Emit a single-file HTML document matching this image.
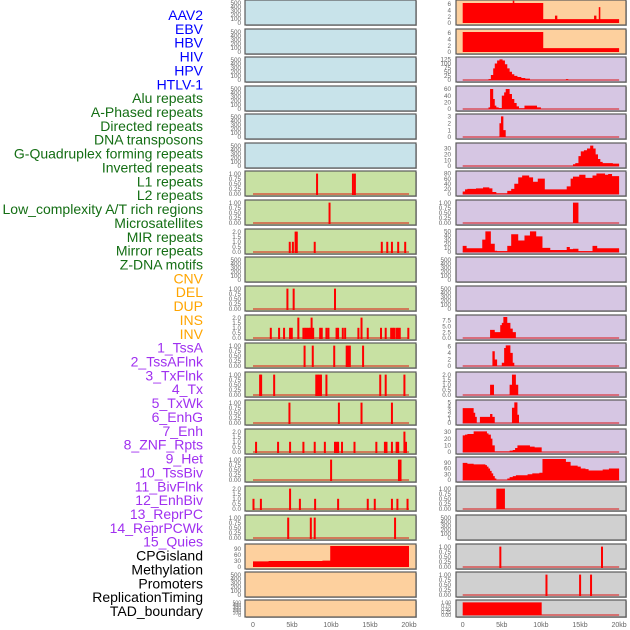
<!DOCTYPE html>
<html><head><meta charset="utf-8"><style>
html,body{margin:0;padding:0;background:#fff;width:630px;height:630px;overflow:hidden}
svg{display:block}
text{font-family:"Liberation Sans",sans-serif}
</style></head><body>
<svg id="chart" width="630" height="630" viewBox="0 0 630 630" xmlns="http://www.w3.org/2000/svg"></svg>
<script>
// ---------- data ----------
const trackLabels=["AAV2","EBV","HBV","HIV","HPV","HTLV-1","Alu repeats","A-Phased repeats","Directed repeats","DNA transposons","G-Quadruplex forming repeats","Inverted repeats","L1 repeats","L2 repeats","Low_complexity A/T rich regions","Microsatellites","MIR repeats","Mirror repeats","Z-DNA motifs","CNV","DEL","DUP","INS","INV","1_TssA","2_TssAFlnk","3_TxFlnk","4_Tx","5_TxWk","6_EnhG","7_Enh","8_ZNF_Rpts","9_Het","10_TssBiv","11_BivFlnk","12_EnhBiv","13_ReprPC","14_ReprPCWk","15_Quies","CPGisland","Methylation","Promoters","ReplicationTiming","TAD_boundary"];
const labelGroups=["v","v","v","v","v","v","r","r","r","r","r","r","r","r","r","r","r","r","r","s","s","s","s","s","c","c","c","c","c","c","c","c","c","c","c","c","c","c","c","o","o","o","o","o"];
const xTickLabels=["0","5kb","10kb","15kb","20kb"];
const xTickValues=[0,5,10,15,20];

// left bar tracks (kb positions, heights)
const L7_pos=[8.2,12.8,13.05];
const L8_pos=[9.8];
const L9_pos=[4.7,5.1,5.45,5.6,7.9,16.5,17.2,17.8,18.6,19.5];
const L9_h=[1,1,2,2,1,1,1,1,1,1];
const L11_pos=[4.4,5.2,10.5];
const L12_pos=[2.27,3.33,3.97,4.74,4.96,5.8,6.45,6.67,6.88,7.1,7.3,7.5,7.7,8.6,8.8,9.4,9.66,10.7,10.9,11.5,11.8,13.5,13.9,14.7,16.4,17.0,17.7,17.9,18.1,18.4,18.6,18.8,19.9];
const L12_h=[1,1,1,1,1,2,1,1,1,1,1,2,1,1,1,1,1,1,1,1,1,1,2,1,1,1,1,1,1,1,1,1,1];
const L13_pos=[6.6,7.65,10.4,12.0,12.2,12.4,14.1];
const L14_pos=[0.9,1.03,2.7,8.1,8.3,8.5,8.7,9.4,16.3,17.0,19.4];
const L15_pos=[4.66,11.0,13.9,17.8];
const L16_pos=[0.38,3.2,4.74,6.45,7.9,9.2,10.5,10.7,10.9,11.4,13.0,15.8,16.9,17.1,17.8,18.4,18.6,19.4,19.6];
const L16_h=[1,1,1,1,1,1,1,1,1,1,1,1,1,1,1,1,1,2,1];
const L17_pos=[10.0,18.7,18.9];
const L18_pos=[0.05,1.0,4.74,6.0,7.95,10.9,14.7,15.6,17.8,18.5,19.8];
const L18_h=[1,1,2,1,1,1,1,1,1,1,1];
const L19_pos=[4.5,7.4,7.9,18.2];
const L20_starts=[0,2.0,8.9,9.9,20];
const L20_vals=[28,30,32,105,0];

// right step-area tracks
const R1_starts=[0,6.4,6.6,10.3,11.8,12.1,16.8,17.1,17.4,17.6,20];
const R1_vals=[6.3,7,6.3,1.2,2.3,1.2,2.3,1.2,5,1.2,0];
const R2_starts=[0,10.3,20];
const R2_vals=[6.3,1.2,0];
const R3_starts=[3.3,3.6,3.9,4.1,4.4,4.7,5.1,5.4,5.7,6.0,6.3,6.6,7.0,7.5,8.0,8.6,13.2,13.5];
const R3_vals=[5,30,70,100,118,125,118,95,70,50,35,25,18,12,8,0,5,0];
const R4_starts=[3.3,3.5,3.9,4.1,4.3,4.6,5.0,5.3,5.5,6.0,6.3,6.6,6.9,7.2,7.9,9.5,10.0];
const R4_vals=[5,60,30,10,5,3,40,50,60,45,30,18,8,2,10,5,0];
const R5_starts=[4.7,4.9,5.2,5.5];
const R5_vals=[2,3,1,0];
const R6_starts=[14.1,14.4,14.8,15.1,15.5,15.9,16.3,16.7,17.0,17.3,17.6,17.9,19.2,20];
const R6_vals=[3,5,17,25,27,30,35,30,20,12,7,5,4,0];
const R7_starts=[0,0.3,0.6,1.7,2.6,3.4,3.8,4.3,5.7,6.2,6.6,7.1,7.6,8.5,9.0,9.6,10.5,13.3,13.8,14.1,14.9,15.7,16.6,17.1,18.2,18.6,19.1,20];
const R7_vals=[10,18,20,22,26,22,8,2,12,20,40,65,72,65,48,60,18,30,60,68,75,63,72,80,75,78,70,0];
const R8_starts=[14.1,14.8];
const R8_vals=[1,0];
const R9_starts=[0,0.5,2.5,2.9,3.6,4.1,4.4,5.7,6.2,7.1,7.9,8.6,9.4,10.2,11.2,13.3,13.7,14.1,14.8,16.6,17.2,20];
const R9_vals=[15,9,30,50,20,3,2,15,43,28,40,50,38,10,5,12,7,8,2,15,9,0];
const R12_starts=[3.5,4.1,4.8,5.0,5.2,5.7,6.1,6.4,6.8];
const R12_vals=[3.5,2.5,5.5,6.5,9,6.5,4,2.5,0];
const R13_starts=[3.8,4.1,4.4,5.0,5.3,5.5,6.1,6.4,6.6];
const R13_vals=[4.5,2,0,1,5.5,6.3,4,1,0];
const R14_starts=[3.5,4.0,6.0,6.3,6.8,7.1];
const R14_vals=[1,0,1,2,1,0];
const R15_starts=[0,1.4,1.6,1.8,2.2,3.5,3.8,4.1,6.3,6.6,7.0,7.2];
const R15_vals=[3.6,2.5,1.5,0,1.5,2.2,1.5,0,3.7,5,2,0];
const R16_starts=[0,0.3,0.6,1.4,3.1,3.3,3.6,3.8,4.1,6.0,6.4,6.7,7.0,8.6,9.2,10.1];
const R16_vals=[25,26,27,31,28,26,20,10,0.5,2,3,6,10,8,7,0];
const R17_starts=[0,0.6,1.4,2.9,3.1,3.3,3.5,3.7,3.9,4.1,4.3,5.7,6.0,6.4,6.8,8.3,8.9,9.8,10.2,13.2,13.8,14.7,15.1,15.7,16.1,17.9,18.7,20];
const R17_vals=[90,85,82,78,70,60,48,35,20,8,0,8,15,20,25,30,35,38,110,95,75,70,60,57,50,55,60,0];
const R18_starts=[4.3,5.4];
const R18_vals=[1,0];
const R20_pos=[4.8,17.8];
const R21_pos=[10.7,15.0,16.4];
const R22_starts=[0,10.1];
const R22_vals=[1,0];

// ---------- layout ----------
const NS="http://www.w3.org/2000/svg";
const svg=document.getElementById('chart');
const rowTops=[0,29,57,86,114,143,171,200,229,257,286,315,343,372,400,429,457,486,515,544,572,600];
const rowH=i=>i===21?17:25;
const COL={blue:"#c8e3ea",green:"#c8e1a3",orange:"#fdd09e",lav:"#d6c6e3",gray:"#d0d0d0"};
const groupColor={v:"#0000ff",r:"#146e14",s:"#ffa500",c:"#a030f0",o:"#000000"};
const left={x0:245,x1:416,z:253,s:7.8,tickX:241};
const right={x0:456,x1:626,z:462.7,s:7.82,tickX:451};

const T500={v:[0,100,200,300,400,500],l:["0","100","200","300","400","500"],max:520};
const TP1={v:[0,0.25,0.5,0.75,1],l:["0.00","0.25","0.50","0.75","1.00"],max:1.03};
const TP2={v:[0,0.5,1,1.5,2],l:["0.0","0.5","1.0","1.5","2.0"],max:2.06};
function T(v,max){return {v:v,l:v.map(String),max:max};}

function mk(tag,attrs,parent){const e=document.createElementNS(NS,tag);for(const k in attrs)e.setAttribute(k,attrs[k]);(parent||svg).appendChild(e);return e;}

// labels
trackLabels.forEach((t,i)=>{
  const y=15+i*(611-15)/(trackLabels.length-1);
  const e=mk('text',{x:203,y:y+5,'text-anchor':'end','font-size':14,fill:groupColor[labelGroups[i]]});
  e.textContent=t;
  
  
});

function panel(side,row,bg,ticks,draw,name,baseline){
  const top=rowTops[row],h=rowH(row),bot=top+h;
  const g=mk('g',{});
  
  
  mk('rect',{x:side.x0+1,y:top+1,width:side.x1-side.x0,height:h,fill:'#bbb'},g);
  mk('rect',{x:side.x0,y:top,width:side.x1-side.x0,height:h,fill:bg,stroke:'#5a5a5a','stroke-width':1.2},g);
  const y0=bot-2,yt=top+2;
  const ys=v=>y0-(v/ticks.max)*(y0-yt);
  const xs=k=>side.z+k*side.s;
  ticks.v.forEach((v,i)=>{
    const t=mk('text',{x:side.tickX,y:ys(v)+2.2,'text-anchor':'end','font-size':h<20?5:6.3,fill:'#666'},g);
    t.textContent=ticks.l[i];
    
    
  });
  if(baseline){mk('line',{x1:xs(0),x2:xs(20),y1:y0,y2:y0,stroke:'rgba(220,0,0,0.45)','stroke-width':2},g);}
  if(draw)draw(g,xs,ys,y0);
}
function bars(pos,h){return (g,xs,ys,y0)=>{pos.forEach((p,i)=>{const v=h?h[i]:1;const r=mk('rect',{x:xs(p)-0.9,y:ys(v),width:2,height:y0-ys(v)+1,fill:'#ff0000'},g);});};}
function area(st,vals,end){return (g,xs,ys,y0)=>{let d="M"+xs(st[0])+","+y0;for(let i=0;i<st.length;i++){const x1=xs(st[i]);const x2=xs(i+1<st.length?st[i+1]:(end||20));d+=" L"+x1+","+ys(vals[i])+" L"+x2+","+ys(vals[i]);}d+=" L"+xs(i_end(st,end))+","+y0+" Z";const p=mk('path',{d:d,fill:'#ff0000'},g);};}
function i_end(st,end){return Math.max(st[st.length-1],end||20);}

// left column
for(let r=0;r<6;r++)panel(left,r,COL.blue,T500,null,'left-panel-'+(r+1),false);
panel(left,6,COL.green,TP1,bars(L7_pos),'left-panel-7',true);
panel(left,7,COL.green,TP1,bars(L8_pos),'left-panel-8',true);
panel(left,8,COL.green,TP2,bars(L9_pos,L9_h),'left-panel-9',true);
panel(left,9,COL.green,T500,null,'left-panel-10',false);
panel(left,10,COL.green,TP1,bars(L11_pos),'left-panel-11',true);
panel(left,11,COL.green,TP2,bars(L12_pos,L12_h),'left-panel-12',true);
panel(left,12,COL.green,TP1,bars(L13_pos),'left-panel-13',true);
panel(left,13,COL.green,TP1,bars(L14_pos),'left-panel-14',true);
panel(left,14,COL.green,TP1,bars(L15_pos),'left-panel-15',true);
panel(left,15,COL.green,TP2,bars(L16_pos,L16_h),'left-panel-16',true);
panel(left,16,COL.green,TP1,bars(L17_pos),'left-panel-17',true);
panel(left,17,COL.green,TP2,bars(L18_pos,L18_h),'left-panel-18',true);
panel(left,18,COL.green,TP1,bars(L19_pos),'left-panel-19',true);
panel(left,19,COL.orange,T([0,30,60,90],105),area(L20_starts,L20_vals),'left-panel-20',false);
panel(left,20,COL.orange,T500,null,'left-panel-21',false);
panel(left,21,COL.orange,T500,null,'left-panel-22',false);

// right column
panel(right,0,COL.orange,T([0,2,4,6],6.6),area(R1_starts,R1_vals),'right-panel-1',false);
panel(right,1,COL.orange,T([0,2,4,6],6.6),area(R2_starts,R2_vals),'right-panel-2',false);
panel(right,2,COL.lav,T([0,25,50,75,100,125],127),area(R3_starts,R3_vals),'right-panel-3',true);
panel(right,3,COL.lav,T([0,20,40,60],63),area(R4_starts,R4_vals),'right-panel-4',true);
panel(right,4,COL.lav,T([0,1,2,3],3.05),area(R5_starts,R5_vals),'right-panel-5',true);
panel(right,5,COL.lav,T([0,10,20,30],36),area(R6_starts,R6_vals),'right-panel-6',true);
panel(right,6,COL.lav,T([0,20,40,60,80],82),area(R7_starts,R7_vals),'right-panel-7',true);
panel(right,7,COL.lav,TP1,area(R8_starts,R8_vals),'right-panel-8',true);
panel(right,8,COL.lav,T([0,10,20,30,40,50],51),area(R9_starts,R9_vals),'right-panel-9',true);
panel(right,9,COL.lav,T500,null,'right-panel-10',false);
panel(right,10,COL.lav,T500,null,'right-panel-11',false);
panel(right,11,COL.lav,{v:[0,2.5,5,7.5],l:["0.0","2.5","5.0","7.5"],max:9},area(R12_starts,R12_vals),'right-panel-12',true);
panel(right,12,COL.lav,T([0,2,4,6],6.4),area(R13_starts,R13_vals),'right-panel-13',true);
panel(right,13,COL.lav,TP2,area(R14_starts,R14_vals),'right-panel-14',true);
panel(right,14,COL.lav,T([0,1,2,3,4,5],5.1),area(R15_starts,R15_vals),'right-panel-15',true);
panel(right,15,COL.lav,T([0,10,20,30],31.5),area(R16_starts,R16_vals),'right-panel-16',true);
panel(right,16,COL.lav,T([0,30,60,90],110),area(R17_starts,R17_vals),'right-panel-17',true);
panel(right,17,COL.gray,TP1,area(R18_starts,R18_vals),'right-panel-18',true);
panel(right,18,COL.gray,T500,null,'right-panel-19',false);
panel(right,19,COL.gray,TP1,bars(R20_pos),'right-panel-20',true);
panel(right,20,COL.gray,TP1,bars(R21_pos),'right-panel-21',true);
panel(right,21,COL.gray,TP1,area(R22_starts,R22_vals),'right-panel-22',true);

// x axes
[left,right].forEach((side,si)=>{
  xTickValues.forEach((v,i)=>{
    const t=mk('text',{x:side.z+v*side.s,y:627,'text-anchor':'middle','font-size':7,fill:'#666'});
    t.textContent=xTickLabels[i];
    
    
  });
});
</script>
</body></html>
